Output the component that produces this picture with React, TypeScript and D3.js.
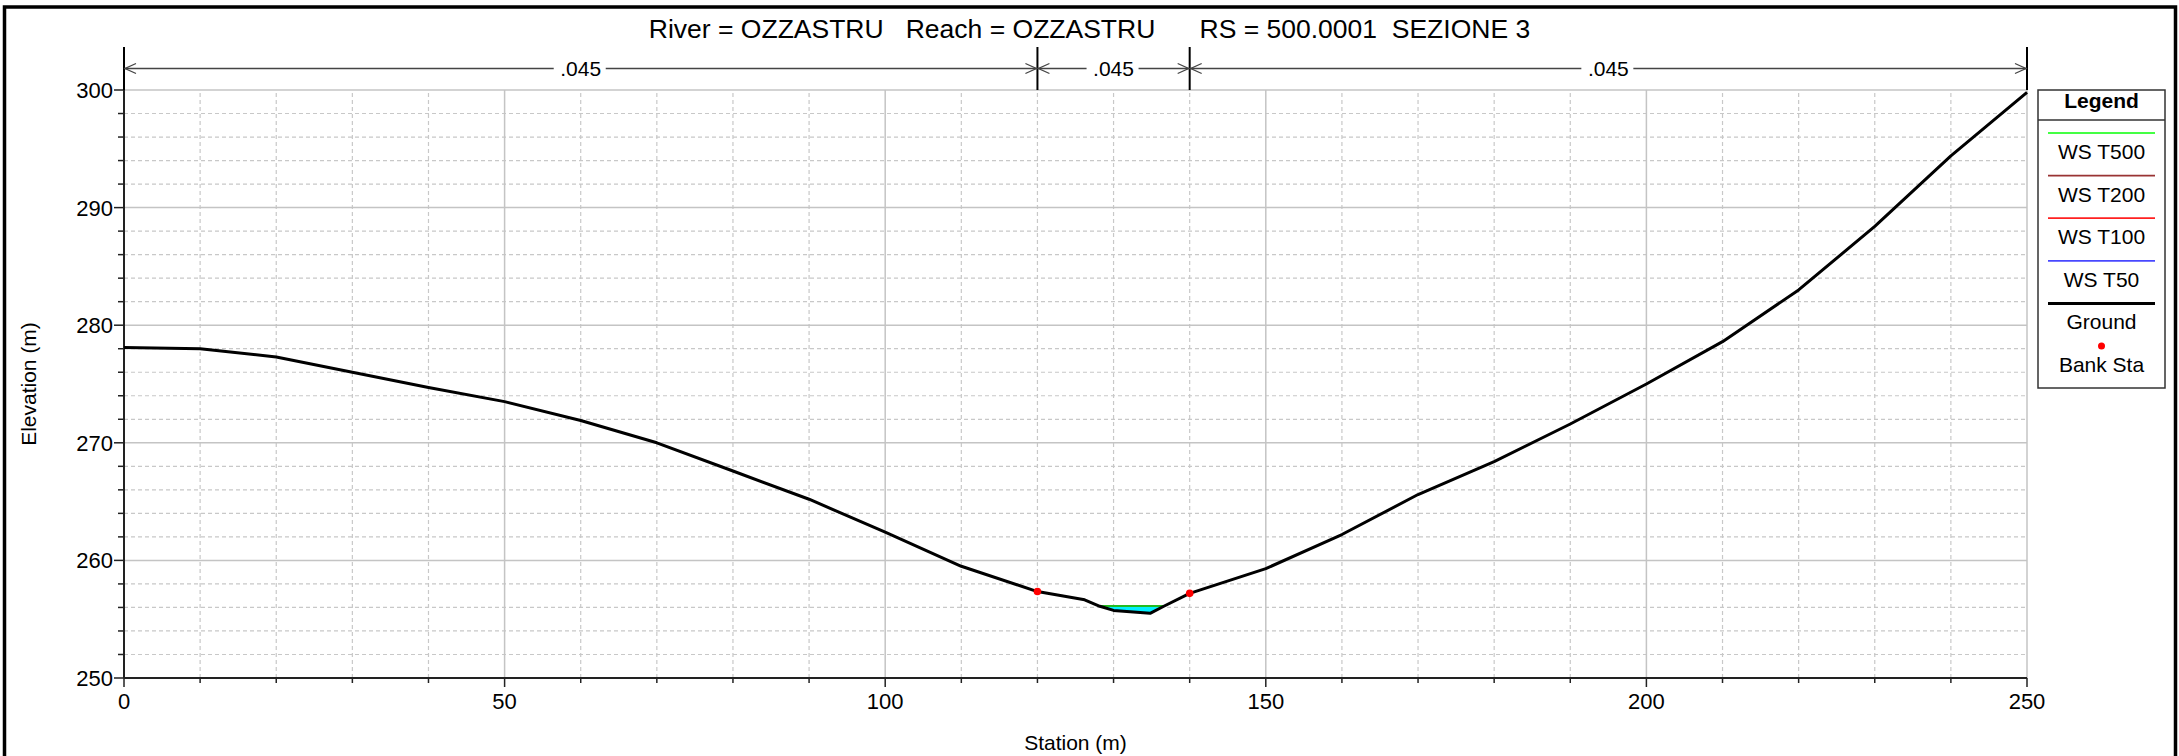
import * as d3 from "d3";

// ground profile (station m, elevation m)
const stations = [0, 10, 20, 30, 40, 50, 60, 70, 80, 90, 100, 110, 120, 126.2, 128.2, 130, 134.8, 136.6, 140, 150, 160, 170, 180, 190, 200, 210, 220, 230, 240, 250];
const elevations = [278.1, 278.0, 277.3, 276.0, 274.7, 273.5, 271.9, 270.0, 267.6, 265.2, 262.4, 259.5, 257.35, 256.65, 256.1, 255.75, 255.5, 256.1, 257.2, 259.3, 262.2, 265.6, 268.4, 271.6, 275.0, 278.6, 283.0, 288.4, 294.4, 299.8];

// water surfaces, drawn bottom to top
const wsNames = ["WS T50", "WS T100", "WS T200", "WS T500"];
const wsElev = [256.12, 256.12, 256.12, 256.12];
const wsColors = ["#4848ff", "#ff2020", "#993333", "#22bb22"];

const bankStations = [120, 140];
const nStations = [0, 120, 140, 250];
const nValues = [".045", ".045", ".045"];

const legendItems = ["WS T500", "WS T200", "WS T100", "WS T50", "Ground", "Bank Sta"];
const legendColors = ["#44ff44", "#993333", "#ff2020", "#4848ff", "#000000", "#ff0000"];

const title = "River = OZZASTRU   Reach = OZZASTRU      RS = 500.0001  SEZIONE 3";

const W = 2179, H = 756;
const font = "'Liberation Sans', Arial, sans-serif";

export default function App() {
  const x = d3.scaleLinear().domain([0, 250]).range([124, 2027]);
  const y = d3.scaleLinear().domain([250, 300]).range([678, 90]);
  const ground = stations.map((s, i) => [s, elevations[i]] as [number, number]);

  const line = d3.line<[number, number]>().x((d) => x(d[0])).y((d) => y(d[1]));

  // where the water surface meets the ground, walking out from the thalweg
  const wet = (ws: number) => {
    let lo = d3.minIndex(elevations);
    let hi = lo;
    while (lo > 0 && elevations[lo - 1] < ws) lo--;
    while (hi < elevations.length - 1 && elevations[hi + 1] < ws) hi++;
    const cross = (a: number, b: number) => {
      const t = (ws - elevations[a]) / (elevations[b] - elevations[a]);
      return stations[a] + t * (stations[b] - stations[a]);
    };
    const left = lo > 0 ? cross(lo - 1, lo) : stations[0];
    const right = hi < stations.length - 1 ? cross(hi + 1, hi) : stations[stations.length - 1];
    const pts: [number, number][] = [[left, ws]];
    for (let i = lo; i <= hi; i++) pts.push(ground[i]);
    pts.push([right, ws]);
    return { left, right, pts };
  };

  const w0 = wet(wsElev[0]);
  const fillPath = line(w0.pts) + "Z";

  const yMajor = d3.range(250, 301, 10);
  const yMinor = d3.range(250, 301, 2).filter((v) => v % 10 !== 0);
  const xMajor = d3.range(0, 251, 50);
  const xMinor = d3.range(0, 251, 10).filter((v) => v % 50 !== 0);

  const arrowY = 68.5;
  const tickTop = 47;
  const lx0 = 2038, lx1 = 2165;

  return (
    <svg width={W} height={H} style={{ position: "absolute", left: 0, top: 0, display: "block", background: "#fff" }} fontFamily={font}>
      <rect x={0} y={0} width={W} height={H} fill="#fff" />
      <rect x={4.5} y={7} width={2171} height={780} fill="none" stroke="#000" strokeWidth={3.5} />

      <text x={W / 2} y={38} textAnchor="middle" fontSize={26.5} style={{ whiteSpace: "pre" }}>{title}</text>

      {/* grid */}
      {yMinor.map((v) => (
        <line key={"ym" + v} x1={x(0)} x2={x(250)} y1={y(v)} y2={y(v)} stroke="#c8c8c8" strokeWidth={1.2} strokeDasharray="4,3" />
      ))}
      {xMinor.map((v) => (
        <line key={"xm" + v} x1={x(v)} x2={x(v)} y1={y(250)} y2={y(300)} stroke="#c8c8c8" strokeWidth={1.2} strokeDasharray="4,3" />
      ))}
      {yMajor.map((v) => (
        <line key={"yM" + v} x1={x(0)} x2={x(250)} y1={y(v)} y2={y(v)} stroke="#c4c4c4" strokeWidth={1.5} />
      ))}
      {xMajor.map((v) => (
        <line key={"xM" + v} x1={x(v)} x2={x(v)} y1={y(250)} y2={y(300)} stroke="#c4c4c4" strokeWidth={1.5} />
      ))}

      {/* axes */}
      <line x1={x(0)} x2={x(0)} y1={tickTop} y2={y(250)} stroke="#222" strokeWidth={2} />
      <line x1={x(0)} x2={x(250)} y1={y(250)} y2={y(250)} stroke="#222" strokeWidth={2} />
      {yMajor.map((v) => (
        <g key={"yt" + v}>
          <line x1={x(0) - 10} x2={x(0)} y1={y(v)} y2={y(v)} stroke="#222" strokeWidth={1.5} />
          <text x={x(0) - 11} y={y(v) + 8} textAnchor="end" fontSize={22}>{v}</text>
        </g>
      ))}
      {yMinor.map((v) => (
        <line key={"ytm" + v} x1={x(0) - 6} x2={x(0)} y1={y(v)} y2={y(v)} stroke="#222" strokeWidth={1.5} />
      ))}
      {xMajor.map((v) => (
        <g key={"xt" + v}>
          <line x1={x(v)} x2={x(v)} y1={y(250)} y2={y(250) + 9} stroke="#222" strokeWidth={1.5} />
          <text x={x(v)} y={709} textAnchor="middle" fontSize={22}>{v}</text>
        </g>
      ))}
      {xMinor.map((v) => (
        <line key={"xtm" + v} x1={x(v)} x2={x(v)} y1={y(250)} y2={y(250) + 5} stroke="#222" strokeWidth={1.5} />
      ))}
      <text transform={`translate(36,${(y(250) + y(300)) / 2}) rotate(-90)`} textAnchor="middle" fontSize={21}>Elevation (m)</text>
      <text x={(x(0) + x(250)) / 2} y={750} textAnchor="middle" fontSize={21}>Station (m)</text>

      {/* manning n segments */}
      {nStations.map((s) => (
        <line key={"nt" + s} x1={x(s)} x2={x(s)} y1={tickTop} y2={y(300)} stroke="#000" strokeWidth={2} />
      ))}
      {nValues.map((n, i) => {
        const a = x(nStations[i]);
        const b = x(nStations[i + 1]);
        const m = (a + b) / 2;
        return (
          <g key={"nv" + i}>
            <line x1={a} x2={b} y1={arrowY} y2={arrowY} stroke="#444" strokeWidth={1.5} />
            <path d={`M${a + 12},${arrowY - 5}L${a + 1},${arrowY}L${a + 12},${arrowY + 5}`} fill="none" stroke="#444" strokeWidth={1.3} />
            <path d={`M${b - 12},${arrowY - 5}L${b - 1},${arrowY}L${b - 12},${arrowY + 5}`} fill="none" stroke="#444" strokeWidth={1.3} />
            <rect x={m - 27} y={arrowY - 12} width={52} height={24} fill="#fff" />
            <text x={m} y={arrowY + 7.5} textAnchor="middle" fontSize={21}>{n}</text>
          </g>
        );
      })}

      {/* water */}
      <path d={fillPath} fill="#00f0ff" stroke="none" />
      {wsElev.map((e, i) => {
        const w = wet(e);
        return <line key={"ws" + i} x1={x(w.left)} x2={x(w.right)} y1={y(e)} y2={y(e)} stroke={wsColors[i]} strokeWidth={2} />;
      })}

      {/* ground */}
      <path d={line(ground) || ""} fill="none" stroke="#000" strokeWidth={3} strokeLinejoin="round" />
      {bankStations.map((s) => (
        <circle key={"bs" + s} cx={x(s)} cy={y(d3.scaleLinear(stations, elevations)(s))} r={3.8} fill="#ff0000" />
      ))}

      {/* legend */}
      <rect x={lx0} y={90} width={lx1 - lx0} height={298} fill="#fff" stroke="#333" strokeWidth={1.5} />
      <line x1={lx0} x2={lx1} y1={120} y2={120} stroke="#333" strokeWidth={1.5} />
      <text x={(lx0 + lx1) / 2} y={108} textAnchor="middle" fontSize={21} fontWeight="bold">Legend</text>
      {legendItems.map((name, i) => {
        const top = 133 + i * 42.6;
        const cx = (lx0 + lx1) / 2;
        return (
          <g key={"lg" + i}>
            {name === "Bank Sta" ? (
              <circle cx={cx} cy={top} r={3.5} fill={legendColors[i]} />
            ) : (
              <line x1={2048} x2={2155} y1={top} y2={top} stroke={legendColors[i]} strokeWidth={name === "Ground" ? 3 : 1.8} />
            )}
            <text x={cx} y={top + 26} textAnchor="middle" fontSize={21}>{name}</text>
          </g>
        );
      })}
    </svg>
  );
}
